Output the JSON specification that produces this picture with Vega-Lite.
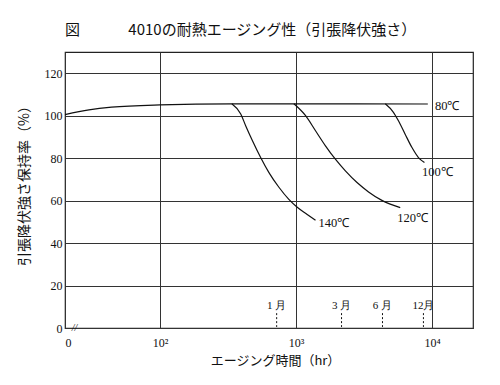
{
  "$schema": "https://vega.github.io/schema/vega-lite/v6.json",
  "autosize": {"type": "none"},
  "width": 408,
  "height": 276,
  "padding": {"left": 65, "top": 52, "right": 27, "bottom": 57},
  "background": "white",
  "title": {
    "text": "図　　　 4010の耐熱エージング性（引張降伏強さ）",
    "anchor": "start",
    "frame": "group",
    "font": "Noto Sans CJK JP",
    "fontSize": 15,
    "fontWeight": "normal",
    "color": "#111",
    "offset": 14
  },
  "config": {
    "view": {"stroke": "#222", "strokeWidth": 1.2},
    "axis": {
      "domain": false,
      "ticks": false,
      "gridColor": "#333",
      "gridOpacity": 1,
      "gridWidth": 1,
      "labelFont": "Liberation Serif",
      "labelFontSize": 12,
      "labelColor": "#111",
      "titleFont": "Noto Sans CJK JP",
      "titleFontSize": 13,
      "titleFontWeight": "normal",
      "titleColor": "#111"
    }
  },
  "datasets": {
    "curves": [
      {"s": "80", "t": 20, "v": 100.5},
      {"s": "80", "t": 30, "v": 102.7},
      {"s": "80", "t": 44, "v": 104},
      {"s": "80", "t": 100, "v": 105.1},
      {"s": "80", "t": 337, "v": 105.6},
      {"s": "80", "t": 1000, "v": 105.6},
      {"s": "80", "t": 9310, "v": 105.5},
      {"s": "140", "t": 337, "v": 105.6},
      {"s": "140", "t": 392, "v": 100.8},
      {"s": "140", "t": 426, "v": 95.3},
      {"s": "140", "t": 478, "v": 88.2},
      {"s": "140", "t": 549, "v": 80.3},
      {"s": "140", "t": 632, "v": 73.2},
      {"s": "140", "t": 748, "v": 66.3},
      {"s": "140", "t": 885, "v": 60.6},
      {"s": "140", "t": 1020, "v": 56.9},
      {"s": "140", "t": 1208, "v": 53.5},
      {"s": "140", "t": 1390, "v": 50.7},
      {"s": "120", "t": 964, "v": 105.6},
      {"s": "120", "t": 1175, "v": 100},
      {"s": "120", "t": 1390, "v": 92.9},
      {"s": "120", "t": 1645, "v": 85.8},
      {"s": "120", "t": 1946, "v": 79.5},
      {"s": "120", "t": 2305, "v": 74},
      {"s": "120", "t": 2807, "v": 68.5},
      {"s": "120", "t": 3412, "v": 64.1},
      {"s": "120", "t": 4276, "v": 60.1},
      {"s": "120", "t": 5834, "v": 56.7},
      {"s": "100", "t": 4530, "v": 105.6},
      {"s": "100", "t": 5200, "v": 101.6},
      {"s": "100", "t": 5660, "v": 97.6},
      {"s": "100", "t": 6340, "v": 91.3},
      {"s": "100", "t": 7100, "v": 85.1},
      {"s": "100", "t": 7940, "v": 80.3},
      {"s": "100", "t": 8790, "v": 78}
    ],
    "labels": [
      {"label": "80℃", "t": 10500, "v": 104.5},
      {"label": "100℃", "t": 8450, "v": 73.6},
      {"label": "120℃", "t": 5550, "v": 51.9},
      {"label": "140℃", "t": 1462, "v": 49.5}
    ],
    "months": [
      {"m": "1 月", "t": 720},
      {"m": "3 月", "t": 2160},
      {"m": "6 月", "t": 4320},
      {"m": "12月", "t": 8640}
    ],
    "brk": [{"label": "//", "t": 23.5, "v": 0}]
  },
  "layer": [
    {
      "data": {"name": "curves"},
      "mark": {"type": "line", "interpolate": "monotone", "color": "#111", "strokeWidth": 1.2},
      "encoding": {
        "x": {
          "field": "t", "type": "quantitative",
          "scale": {"type": "log", "domain": [20, 20000], "nice": false},
          "axis": {
            "values": [20, 100, 1000, 10000],
            "labelExpr": "datum.value < 50 ? '0' : datum.value < 500 ? '10²' : datum.value < 5000 ? '10³' : '10⁴'",
            "labelPadding": 9,
            "title": "エージング時間（hr）",
            "titlePadding": 6,
            "titleX": 210
          }
        },
        "y": {
          "field": "v", "type": "quantitative",
          "scale": {"domain": [0, 130], "nice": false},
          "axis": {
            "values": [0, 20, 40, 60, 80, 100, 120],
            "labelPadding": 3,
            "title": "引張降伏強さ保持率（%）",
            "titleFontSize": 14,
            "titlePadding": 13,
            "titleY": 130
          }
        },
        "detail": {"field": "s"}
      }
    },
    {
      "data": {"name": "months"},
      "mark": {"type": "rule", "color": "#111", "strokeWidth": 1, "strokeDash": [2, 2]},
      "encoding": {
        "x": {"field": "t", "type": "quantitative"},
        "y": {"datum": 7},
        "y2": {"datum": 0.5}
      }
    },
    {
      "data": {"name": "months"},
      "mark": {"type": "text", "font": "Liberation Serif", "fontSize": 11, "color": "#111", "baseline": "middle"},
      "encoding": {
        "x": {"field": "t", "type": "quantitative"},
        "y": {"datum": 10.5},
        "text": {"field": "m"}
      }
    },
    {
      "data": {"name": "labels"},
      "mark": {"type": "text", "font": "Liberation Serif", "fontSize": 12.5, "color": "#111", "align": "left", "baseline": "middle"},
      "encoding": {
        "x": {"field": "t", "type": "quantitative"},
        "y": {"field": "v", "type": "quantitative"},
        "text": {"field": "label"}
      }
    },
    {
      "data": {"name": "brk"},
      "mark": {"type": "text", "font": "Liberation Serif", "fontSize": 10, "fontStyle": "italic", "color": "#111", "baseline": "middle"},
      "encoding": {
        "x": {"field": "t", "type": "quantitative"},
        "y": {"field": "v", "type": "quantitative"},
        "text": {"field": "label"}
      }
    }
  ]
}
